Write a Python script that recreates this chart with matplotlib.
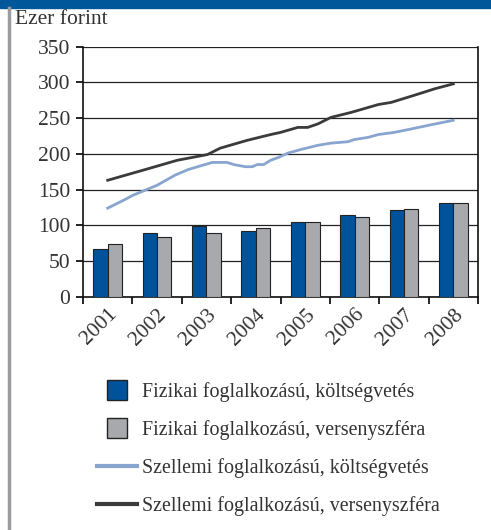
import matplotlib.pyplot as plt
from matplotlib.patches import Rectangle
from matplotlib.lines import Line2D
from matplotlib.legend_handler import HandlerPatch

plt.rcParams['font.family'] = ['Liberation Serif', 'DejaVu Serif']

# adatok
evek = ['2001', '2002', '2003', '2004', '2005', '2006', '2007', '2008']
fizikai_koltsegvetes = [67, 89, 99, 92, 104, 114, 121, 131]
fizikai_verseny = [74, 84, 89, 96, 104, 111, 123, 131]

# vonalak: x = évek indexe (0 = 2001)
szellemi_koltsegvetes_x = [0, 0.35, 0.51, 1.0, 1.36, 1.63, 2.02, 2.12, 2.42, 2.55, 2.79, 2.93,
                           3.03, 3.16, 3.30, 3.46, 3.65, 3.91, 4.26, 4.52, 4.87, 4.99, 5.27,
                           5.48, 5.80, 6.09, 6.50, 7.0]
szellemi_koltsegvetes = [124, 136, 142, 156, 170, 178, 186, 188, 188, 185, 182, 182,
                         185, 185, 191, 195, 201, 206, 212, 215, 217, 220, 223,
                         227, 230, 234, 240, 247]
szellemi_verseny_x = [0, 0.71, 1.41, 2.02, 2.28, 2.83, 3.30, 3.50, 3.85, 4.05, 4.26, 4.52,
                      4.93, 5.48, 5.74, 6.21, 6.62, 7.0]
szellemi_verseny = [163, 177, 191, 199, 208, 219, 227, 230, 237, 237, 242, 251,
                    258, 269, 272, 282, 291, 298]

nevek = ['Fizikai foglalkozású, költségvetés', 'Fizikai foglalkozású, versenyszféra',
         'Szellemi foglalkozású, költségvetés', 'Szellemi foglalkozású, versenyszféra']

kek = '#00539b'
szurke = '#a7a9ac'
vilagoskek = '#88a5d0'
sotet = '#3b3b3b'
szoveg = '#333333'
meret = 15.5

fig = plt.figure(figsize=(4.91, 5.30), dpi=100)

# keret: kék sáv felül, szürke vonal balra
fig.patches.append(Rectangle((0, 1 - 8/530), 1, 8/530, transform=fig.transFigure,
                             color='#00589a', zorder=0))
fig.lines.append(Line2D([9/491, 9/491], [0, 1 - 8/530], transform=fig.transFigure,
                        color='#9a9ca0', lw=2.5))

ax = fig.add_axes([83/491, 1 - 296.7/530, (478 - 83)/491, (296.7 - 46.7)/530])

x = list(range(len(evek)))
w = 0.29
ax.bar([i - w/2 for i in x], fizikai_koltsegvetes, w, color=kek, edgecolor='#222222',
       linewidth=0.8, zorder=3)
ax.bar([i + w/2 for i in x], fizikai_verseny, w, color=szurke, edgecolor='#222222',
       linewidth=0.8, zorder=3)
ax.plot(szellemi_koltsegvetes_x, szellemi_koltsegvetes, color=vilagoskek, lw=2.0, zorder=4)
ax.plot(szellemi_verseny_x, szellemi_verseny, color=sotet, lw=2.0, zorder=4)

ax.set_ylim(0, 350)
ax.set_xlim(-0.5, 7.5)
ax.set_yticks(range(0, 351, 50))
ax.yaxis.grid(True, color='#222222', lw=0.9)
ax.set_axisbelow(True)
ax.spines['top'].set_visible(False)
for s in ['left', 'right', 'bottom']:
    ax.spines[s].set_color('#111111')
    ax.spines[s].set_linewidth(1.2)

# x tengely: jelek a kategóriák határán, feliratok középen
ax.set_xticks([i - 0.5 for i in range(len(evek) + 1)])
ax.set_xticklabels([])
ax.set_xticks(x, minor=True)
ax.set_xticklabels(evek, minor=True, rotation=45, ha='right', va='top',
                   rotation_mode='anchor', fontsize=meret, color=szoveg)
ax.tick_params(axis='x', which='minor', length=0, pad=6)
ax.tick_params(axis='x', which='major', length=5, width=1.2, direction='out')
ax.tick_params(axis='y', length=5, width=1.2, labelsize=meret, labelcolor=szoveg, pad=4)

fig.text(15/491, 1 - 20/530, 'Ezer forint', fontsize=meret, color=szoveg, va='center')


def negyzet(legend, orig_handle, xdescent, ydescent, width, height, fontsize):
    h = 20 * 72 / 100
    return Rectangle((width/2 - h/2 - xdescent, height/2 - h/2 - ydescent), h, h)


handles = [Rectangle((0, 0), 1, 1, facecolor=kek, edgecolor='#222222', lw=1.0),
           Rectangle((0, 0), 1, 1, facecolor=szurke, edgecolor='#222222', lw=1.0),
           Line2D([], [], color=vilagoskek, lw=3),
           Line2D([], [], color=sotet, lw=3)]
fig.legend(handles, nevek, loc='upper left', bbox_to_anchor=(89/491, 1 - 374/530),
           frameon=False, fontsize=14.4, labelcolor=szoveg, handlelength=2.0,
           handletextpad=0.25, labelspacing=0.9, borderaxespad=0,
           handler_map={Rectangle: HandlerPatch(patch_func=negyzet)})

fig.savefig('out.png', dpi=100)
